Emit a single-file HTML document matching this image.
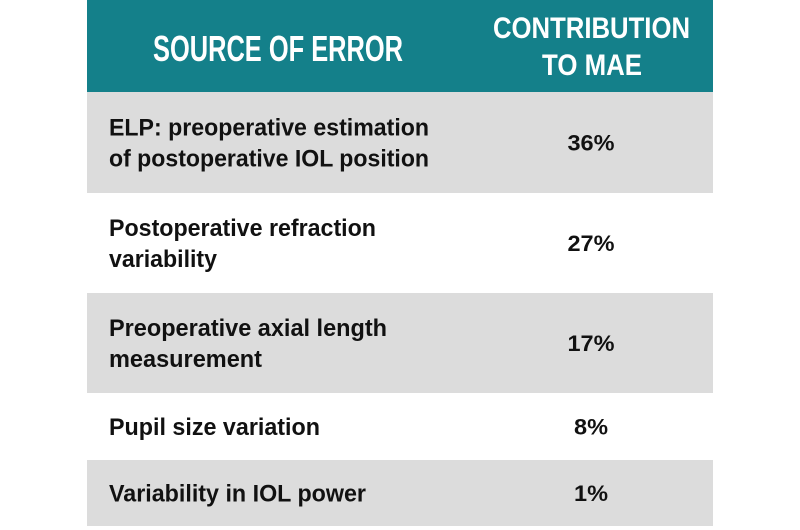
<!DOCTYPE html>
<html><head><meta charset="utf-8"><style>
html,body{margin:0;padding:0;background:#fff;}
svg{display:block;}
text{font-family:"Liberation Sans Narrow","Liberation Sans",sans-serif;font-weight:bold;}
</style></head><body>
<svg id="tbl" width="800" height="530" viewBox="0 0 800 530" xmlns="http://www.w3.org/2000/svg">
<rect x="87" y="0" width="626" height="92" fill="#14808a"/>
<text x="153" y="61" font-size="36" fill="#fff" textLength="250" lengthAdjust="spacingAndGlyphs">SOURCE OF ERROR</text>
<text x="493" y="38" font-size="30" fill="#fff" textLength="197" lengthAdjust="spacingAndGlyphs">CONTRIBUTION</text>
<text x="542" y="75" font-size="30" fill="#fff" textLength="100" lengthAdjust="spacingAndGlyphs">TO MAE</text>
<g id="rows"></g>
</svg>
<script>
const sources = [
  ["ELP: preoperative estimation","of postoperative IOL position"],
  ["Postoperative refraction","variability"],
  ["Preoperative axial length","measurement"],
  ["Pupil size variation"],
  ["Variability in IOL power"]
];
const contributions = [36, 27, 17, 8, 1];
const valueLabels = ["36%","27%","17%","8%","1%"];

const NS = "http://www.w3.org/2000/svg";
const g = document.getElementById("rows");
const rowTops = [92,193,293,393,460];
const rowBottoms = [193,293,393,460,526];
const widths = [[320,320],[267,108],[278,153],[211],[257]];
const pctW = {1:18,2:39};
sources.forEach((lines, i) => {
  const top = rowTops[i], bot = rowBottoms[i];
  const r = document.createElementNS(NS, "rect");
  
  
  r.setAttribute("x", 87); r.setAttribute("y", top);
  r.setAttribute("width", 626); r.setAttribute("height", bot - top);
  r.setAttribute("fill", i % 2 === 0 ? "#dcdcdc" : "#ffffff");
  g.appendChild(r);
  const mid = (top + bot) / 2;
  const lh = 31;
  const firstBase = mid + 8.5 - (lines.length - 1) * lh / 2;
  lines.forEach((ln, j) => {
    const t = document.createElementNS(NS, "text");
    
    
    t.setAttribute("x", 109);
    t.setAttribute("y", firstBase + j * lh);
    t.setAttribute("font-size", 24);
    t.setAttribute("fill", "#111");
    t.setAttribute("textLength", widths[i][j]);
    t.setAttribute("lengthAdjust", "spacingAndGlyphs");
    t.textContent = ln;
    g.appendChild(t);
  });
  const v = document.createElementNS(NS, "text");
  
  
  v.setAttribute("x", 591);
  v.setAttribute("y", mid + 8);
  v.setAttribute("font-size", 22);
  v.setAttribute("fill", "#111");
  v.setAttribute("text-anchor", "middle");
  const label = valueLabels[i] || (contributions[i] + "%");
  const digits = String(contributions[i]).length;
  v.setAttribute("textLength", digits === 1 ? 34 : 47);
  v.setAttribute("lengthAdjust", "spacingAndGlyphs");
  v.textContent = label;
  g.appendChild(v);
});
</script>
</body></html>
